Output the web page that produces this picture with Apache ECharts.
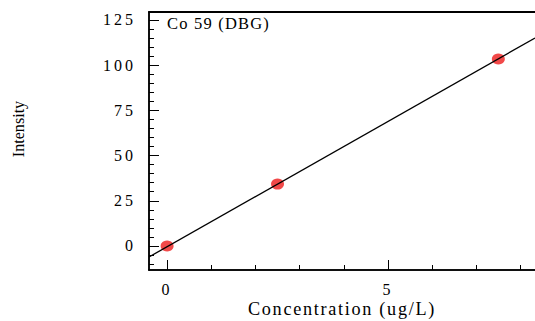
<!DOCTYPE html>
<html><head><meta charset="utf-8">
<script src="https://cdn.jsdelivr.net/npm/echarts@6/dist/echarts.min.js"></script>
<style>
html,body{margin:0;padding:0;background:#fff}#c{width:535px;height:321px}
#c text{font-family:"Liberation Serif",serif !important}
#c text[style*="16px"]{letter-spacing:3px}
#c text[style*="16.5px"]{letter-spacing:1.2px}
#c text[style*="18.2px"]{letter-spacing:1.7px}
</style>
</head><body><div id="c"></div>
<script>
const title = 'Co 59 (DBG)';
const xName = 'Concentration (ug/L)';
const yName = 'Intensity';
const concentrations = [0, 2.5, 7.5];
const intensities = [0, 34.2, 103.4];
const fitX = [-0.41, 8.33];
const fitY = [-6.1, 115];
const yMajorTicks = [0, 25, 50, 75, 100, 125];
const yMinorTicks = [-10, -5, 5, 10, 15, 20, 30, 35, 40, 45, 55, 60, 65, 70, 80, 85, 90, 95, 105, 110, 115, 120];
const xMajorTicks = [0, 5];
const xMinorTicks = [1, 2, 3, 4, 6, 7, 8];
const xRange = [-0.41, 8.33];
const yRange = [-13.3, 129.4];

const font = '"Liberation Serif", serif';
const lbl = {color:'#000', fontFamily:font, fontSize:16};
function xAx(extra){return Object.assign({type:'value', min:xRange[0], max:xRange[1], splitLine:{show:false},
  axisLine:{show:true, onZero:false, lineStyle:{color:'#000', width:1.5}}}, extra);}
function yAx(extra){return Object.assign({type:'value', min:yRange[0], max:yRange[1], splitLine:{show:false},
  axisLine:{show:true, onZero:false, lineStyle:{color:'#000', width:1.5}}}, extra);}

const chart = echarts.init(document.getElementById('c'), null, {renderer:'svg'});
chart.setOption({
  animation:false,
  title:{text:title, left:167, top:15, padding:0, textStyle:{fontFamily:font, fontSize:16.5, fontWeight:'normal', color:'#000'}},
  grid:{left:149, top:12, right:0, bottom:51, outerBoundsMode:'none', containLabel:false},
  graphic:[{type:'text', x:18, y:129, rotation:Math.PI/2, style:{text:yName, fontFamily:font, fontSize:16.1, fill:'#000', align:'center', verticalAlign:'middle'}}],
  xAxis:[
    xAx({position:'bottom', name:xName, nameLocation:'middle', nameGap:30, nameMoveOverlap:false,
      nameTextStyle:{color:'#000', fontFamily:font, fontSize:18.2},
      axisTick:{show:true, inside:true, length:10, customValues:xMajorTicks, lineStyle:{color:'#000'}},
      axisLabel:Object.assign({show:true, margin:11, customValues:xMajorTicks}, lbl)}),
    xAx({position:'bottom', axisTick:{show:true, inside:true, length:5, customValues:xMinorTicks, lineStyle:{color:'#000'}},
      axisLabel:{show:false}}),
    xAx({position:'top', axisTick:{show:false}, axisLabel:{show:false}, axisLine:{show:true, onZero:false, lineStyle:{color:'#000', width:2}}})
  ],
  yAxis:[
    yAx({position:'left',
      axisTick:{show:true, inside:true, length:10, customValues:yMajorTicks, lineStyle:{color:'#000'}},
      axisLabel:Object.assign({show:true, margin:13, customValues:yMajorTicks}, lbl)}),
    yAx({position:'left', axisTick:{show:true, inside:true, length:5, customValues:yMinorTicks, lineStyle:{color:'#000'}},
      axisLabel:{show:false}})
  ],
  series:[
    {type:'line', xAxisIndex:0, yAxisIndex:0, data:fitX.map((x,i)=>[x, fitY[i]]), symbol:'none',
      lineStyle:{color:'#000', width:1.3}, clip:true, z:3},
    {type:'scatter', xAxisIndex:0, yAxisIndex:0, data:concentrations.map((x,i)=>[x, intensities[i]]),
      symbol:'circle', symbolSize:[13,11], itemStyle:{color:'#ee1c1c'}, z:2}
  ]
});
</script></body></html>
